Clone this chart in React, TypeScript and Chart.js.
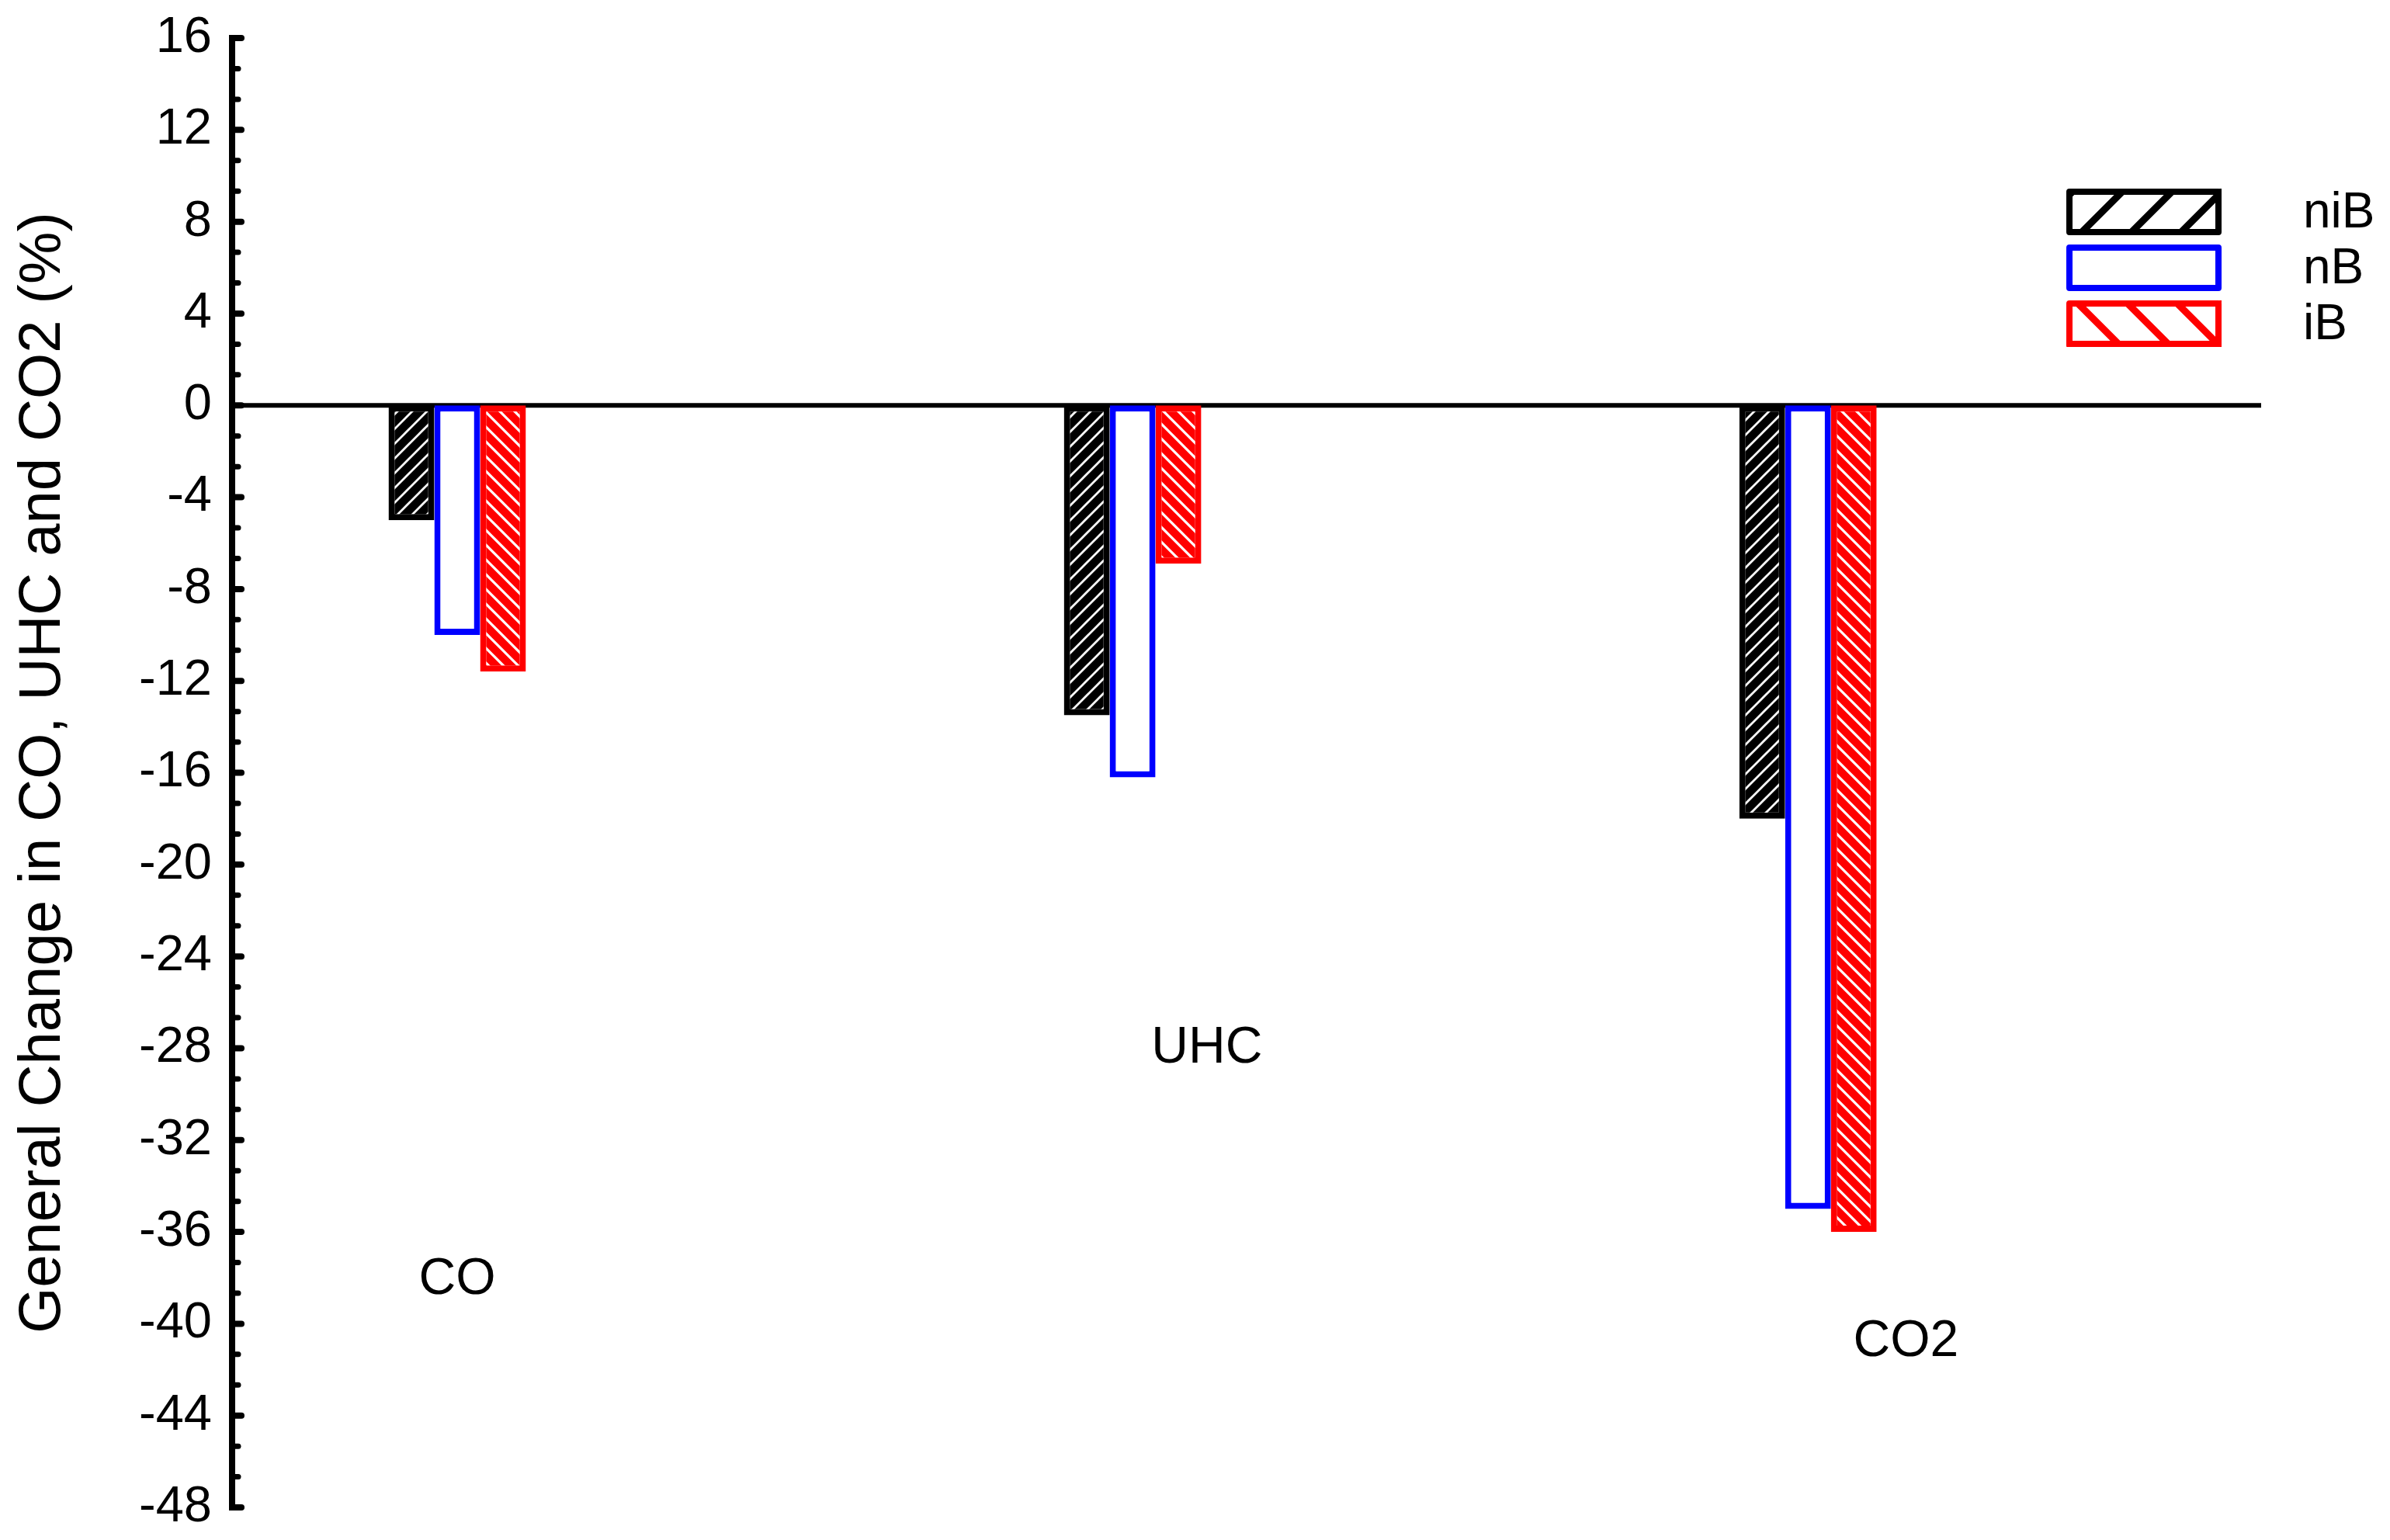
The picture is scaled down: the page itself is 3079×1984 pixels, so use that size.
import React, { useEffect, useRef } from 'react';
import { Chart, registerables } from 'chart.js';

Chart.register(...registerables);

// ---------- data ----------
const categories = ['CO', 'UHC', 'CO2'];
const categoryX = [1, 2, 3];
const seriesNames = ['niB', 'nB', 'iB'];
const niBValues = [-5, -13.5, -18];
const nBValues = [-10, -16.2, -35];
const iBValues = [-11.6, -6.9, -36];
// free-standing category captions (data coordinates)
const captionX = [1.0, 2.11, 3.145];
const captionY = [-38.1, -28.0, -40.8];
// y axis
const yMin = -48;
const yMax = 16;
const yStep = 4;
const yMinorPerMajor = 3;
const xMin = 2 / 3;
const xMax = 3.671;
const yTitle = 'General Change in CO, UHC and CO2 (%)';

const FONT = '"Liberation Sans", Arial, Helvetica, sans-serif';

function makeHatch(bg: string, fg: string, size: number, width: number, dir: 1 | -1) {
  const c = document.createElement('canvas');
  c.width = size;
  c.height = size;
  const g = c.getContext('2d')!;
  g.fillStyle = bg;
  g.fillRect(0, 0, size, size);
  g.strokeStyle = fg;
  g.lineWidth = width;
  g.beginPath();
  if (dir === 1) {
    for (const k of [0, size, 2 * size]) {
      g.moveTo(-size, k + size);
      g.lineTo(2 * size, k - 2 * size);
    }
  } else {
    for (const k of [-size, 0, size]) {
      g.moveTo(-size, k - size);
      g.lineTo(2 * size, k + 2 * size);
    }
  }
  g.stroke();
  return g.createPattern(c, 'repeat') as CanvasPattern;
}

const decorPlugin = {
  id: 'decor',
  beforeDatasetsDraw(chart: any) {
    const { ctx, chartArea, scales } = chart;
    const y0 = scales.y.getPixelForValue(0);
    ctx.save();
    ctx.strokeStyle = '#000';
    ctx.lineWidth = 6;
    ctx.beginPath();
    ctx.moveTo(chartArea.left, y0);
    ctx.lineTo(chartArea.right, y0);
    ctx.stroke();
    ctx.restore();
  },
  afterDraw(chart: any) {
    const { ctx, chartArea, scales } = chart;
    const ys = scales.y;
    const xs = scales.x;
    const left = chartArea.left;
    ctx.save();
    // axis line
    ctx.strokeStyle = '#000';
    ctx.lineWidth = 8;
    ctx.lineCap = 'square';
    ctx.beginPath();
    ctx.moveTo(left, ys.getPixelForValue(yMax));
    ctx.lineTo(left, ys.getPixelForValue(yMin));
    ctx.stroke();
    // inward ticks
    ctx.lineCap = 'round';
    const nMinor = ((yMax - yMin) / yStep) * yMinorPerMajor;
    for (let k = 0; k <= nMinor; k++) {
      const v = yMin + (k * yStep) / yMinorPerMajor;
      const py = ys.getPixelForValue(v);
      const major = k % yMinorPerMajor === 0;
      ctx.lineWidth = major ? 8 : 7;
      ctx.beginPath();
      ctx.moveTo(left, py);
      ctx.lineTo(left + (major ? 12 : 8), py);
      ctx.stroke();
    }
    // category captions
    ctx.fillStyle = '#000';
    ctx.font = `66px ${FONT}`;
    ctx.textAlign = 'center';
    ctx.textBaseline = 'middle';
    categories.forEach((c, i) => {
      ctx.fillText(c, xs.getPixelForValue(captionX[i]), ys.getPixelForValue(captionY[i]));
    });
    // legend
    const boxW = 200;
    const boxH = 60;
    const gap = 12;
    const bx = chartArea.right - 251;
    const by0 = chartArea.top + 194;
    const colors = ['#000000', '#0000ff', '#ff0000'];
    const hatch = [1, 0, -1];
    const offs = [16, 0, 11];
    for (let i = 0; i < seriesNames.length; i++) {
      const by = by0 + i * (boxH + gap);
      ctx.save();
      ctx.beginPath();
      ctx.rect(bx, by, boxW, boxH);
      ctx.clip();
      ctx.strokeStyle = colors[i];
      ctx.lineWidth = 9;
      ctx.lineCap = 'butt';
      if (hatch[i] !== 0) {
        ctx.beginPath();
        for (let s = -2; s < 5; s++) {
          const xb = bx + offs[i] + s * 64;
          if (hatch[i] === 1) {
            ctx.moveTo(xb - 10, by + boxH + 10);
            ctx.lineTo(xb + boxH + 10, by - 10);
          } else {
            ctx.moveTo(xb - 10, by - 10);
            ctx.lineTo(xb + boxH + 10, by + boxH + 10);
          }
        }
        ctx.stroke();
      }
      ctx.restore();
      ctx.strokeStyle = colors[i];
      ctx.lineWidth = 8;
      ctx.lineJoin = 'round';
      ctx.strokeRect(bx + 4, by + 4, boxW - 8, boxH - 8);
      ctx.fillStyle = '#000';
      ctx.font = `64px ${FONT}`;
      ctx.textAlign = 'left';
      ctx.textBaseline = 'middle';
      ctx.fillText(seriesNames[i], bx + 305, by + boxH / 2 + 2);
    }
    ctx.restore();
  },
};

export default function App() {
  const ref = useRef<HTMLCanvasElement | null>(null);
  useEffect(() => {
    if (!ref.current) return;
    const niBPattern = makeHatch('#000000', '#ffffff', 19, 2.8, 1);
    const iBPattern = makeHatch('#ff0000', '#ffffff', 19, 3.2, -1);
    const seriesValues = [niBValues, nBValues, iBValues];
    const borders = ['#000000', '#0000ff', '#ff0000'];
    const fills: any[] = [niBPattern, '#ffffff', iBPattern];
    const chart = new Chart(ref.current, {
      type: 'bar',
      data: {
        datasets: seriesNames.map((name, i) => ({
          label: name,
          data: seriesValues[i].map((v, j) => ({ x: categoryX[j], y: v })),
          backgroundColor: fills[i],
          borderColor: borders[i],
          borderWidth: 8,
          borderSkipped: false,
          categoryPercentage: 0.2034,
          barPercentage: 1,
        })),
      },
      options: {
        responsive: false,
        animation: false,
        devicePixelRatio: 1,
        layout: { padding: { top: 41, bottom: 34, right: 158, left: 0 } },
        plugins: {
          legend: { display: false },
          tooltip: { enabled: false },
          title: { display: false },
        },
        scales: {
          x: {
            type: 'linear',
            min: xMin,
            max: xMax,
            offset: false,
            display: false,
            afterBuildTicks: (scale: any) => {
              scale.ticks = categoryX.map((v) => ({ value: v }));
            },
          },
          y: {
            type: 'linear',
            min: yMin,
            max: yMax,
            grid: { display: false, drawTicks: false },
            border: { display: false },
            ticks: {
              stepSize: yStep,
              padding: 26,
              color: '#000',
              font: { family: FONT, size: 65, lineHeight: 1 },
            },
            title: {
              display: true,
              text: yTitle,
              color: '#000',
              font: { family: FONT, size: 76, lineHeight: 1.2 },
              padding: { top: 2, bottom: 0 },
            },
            afterFit: (scale: any) => {
              scale.width = 291;
              scale.paddingTop = 0;
              scale.paddingBottom = 0;
            },
          },
        },
      },
      plugins: [decorPlugin],
    });
    return () => chart.destroy();
  }, []);
  return (
    <canvas
      ref={ref}
      width={3063}
      height={1968}
      style={{ display: 'block', width: '3063px', height: '1968px' }}
    />
  );
}
